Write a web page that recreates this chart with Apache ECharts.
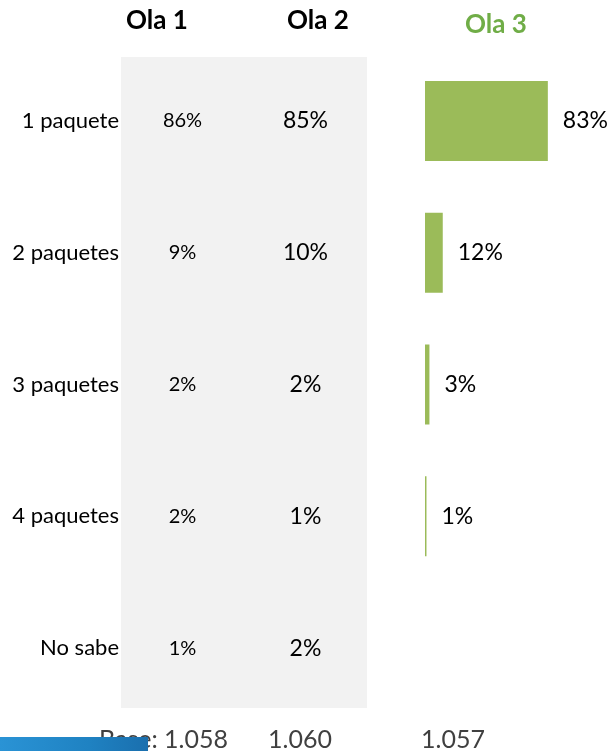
<!DOCTYPE html>
<html>
<head>
<meta charset="utf-8">
<script src="https://cdn.jsdelivr.net/npm/echarts@6/dist/echarts.min.js"></script>
<style>
  html, body { margin: 0; padding: 0; background: #fff; }
  #chart { width: 613px; height: 751px; }
</style>
</head>
<body>
<div id="chart"></div>
<script>
// datos
const categorias = ['1 paquete', '2 paquetes', '3 paquetes', '4 paquetes', 'No sabe']
const olas = ['Ola 1', 'Ola 2', 'Ola 3']
const ola1 = [86, 9, 2, 2, 1]
const ola2 = [85, 10, 2, 1, 2]
const ola3 = [83, 12, 3, 1, null]
const bases = ['1.058', '1.060', '1.057']

const FONT = 'Lato, "Open Sans", sans-serif'
const verde = '#9BBB59'

const chart = echarts.init(document.getElementById('chart'))

// celdas de texto para Ola 1 y Ola 2
const celdas = (vals, col) => vals.map((v, i) => [col, i, v])

const option = {
  animation: false,
  textStyle: { fontFamily: FONT },
  graphic: [
    // panel gris detrás de Ola 1 / Ola 2
    { type: 'rect', z: -10, shape: { x: 121, y: 57, width: 246, height: 651 }, style: { fill: '#F2F2F2' } },
    { type: 'text', x: 157, y: 21, style: { text: olas[0], font: 'bold 26px ' + FONT, fill: '#000', textAlign: 'center', textVerticalAlign: 'middle' } },
    { type: 'text', x: 318, y: 21, style: { text: olas[1], font: 'bold 26px ' + FONT, fill: '#000', textAlign: 'center', textVerticalAlign: 'middle' } },
    { type: 'text', x: 496, y: 25, style: { text: olas[2], font: 'bold 26px ' + FONT, fill: '#70AD47', textAlign: 'center', textVerticalAlign: 'middle' } },
    // base
    { type: 'text', x: 228, y: 740, style: { text: 'Base: ' + bases[0], font: '25px ' + FONT, fill: '#404040', textAlign: 'right', textVerticalAlign: 'middle' } },
    { type: 'text', x: 300, y: 740, style: { text: bases[1], font: '25px ' + FONT, fill: '#404040', textAlign: 'center', textVerticalAlign: 'middle' } },
    { type: 'text', x: 453, y: 740, style: { text: bases[2], font: '25px ' + FONT, fill: '#404040', textAlign: 'center', textVerticalAlign: 'middle' } },
    // franja azul inferior
    {
      type: 'rect', z: 100, shape: { x: 0, y: 737, width: 148, height: 14 },
      style: {
        fill: new echarts.graphic.LinearGradient(0, 0, 1, 0, [
          { offset: 0, color: '#2A93D5' },
          { offset: 0.6, color: '#1F82C2' },
          { offset: 1, color: '#1A6FAE' }
        ])
      }
    }
  ],
  grid: [
    { left: 121, width: 246, top: 55, height: 659 },
    { left: 425, width: 148, top: 55, height: 659 }
  ],
  xAxis: [
    { gridIndex: 0, type: 'category', data: olas.slice(0, 2), show: false },
    { gridIndex: 1, type: 'value', min: 0, max: 100, show: false }
  ],
  yAxis: [
    {
      gridIndex: 0, type: 'category', data: categorias, inverse: true,
      axisLine: { show: false }, axisTick: { show: false }, splitLine: { show: false },
      axisLabel: { color: '#000', fontSize: 22, margin: 2, fontFamily: FONT }
    },
    { gridIndex: 1, type: 'category', data: categorias, inverse: true, show: false }
  ],
  series: [
    {
      type: 'scatter', xAxisIndex: 0, yAxisIndex: 0, symbolSize: 0,
      data: celdas(ola1, 0),
      itemStyle: { opacity: 1 },
      label: { show: true, position: 'inside', formatter: p => p.value[2] + '%', color: '#000', textBorderWidth: 0, fontSize: 20, fontFamily: FONT }
    },
    {
      type: 'scatter', xAxisIndex: 0, yAxisIndex: 0, symbolSize: 0,
      data: celdas(ola2, 1),
      itemStyle: { opacity: 1 },
      label: { show: true, position: 'inside', formatter: p => p.value[2] + '%', color: '#000', textBorderWidth: 0, fontSize: 23, fontFamily: FONT }
    },
    {
      type: 'bar', xAxisIndex: 1, yAxisIndex: 1, barWidth: 80, barMinWidth: 2,
      data: ola3,
      itemStyle: { color: verde },
      label: { show: true, position: 'right', distance: 15, formatter: p => p.value + '%', color: '#000', fontSize: 23, fontFamily: FONT }
    }
  ]
}

chart.setOption(option)
</script>
</body>
</html>
